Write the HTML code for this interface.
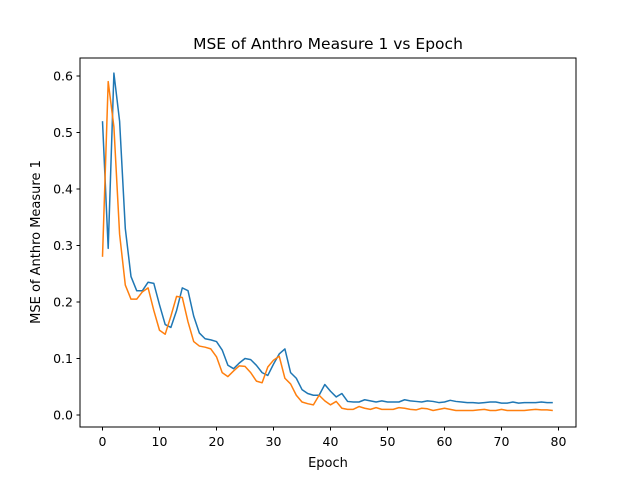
<!DOCTYPE html>
<html><head><meta charset="utf-8"><style>
body{margin:0;background:#fff}
svg text{font-family:"DejaVu Sans","Liberation Sans",sans-serif;fill:#000}
</style></head><body>
<svg id="chart" width="640" height="480" xmlns="http://www.w3.org/2000/svg">
<rect width="640" height="480" fill="#fff"/>
<text x="328" y="49" font-size="15.5" text-anchor="middle">MSE of Anthro Measure 1 vs Epoch</text>
<text x="328" y="467" font-size="13" text-anchor="middle">Epoch</text>
<text x="0" y="0" font-size="13" text-anchor="middle" transform="translate(40,242) rotate(-90)">MSE of Anthro Measure 1</text>
<g id="ticks"></g>
<g id="series"></g>
<rect x="80" y="58" width="496" height="369" fill="none" stroke="#000" stroke-width="1"/>
</svg>
<script>
const xTicks=[0,10,20,30,40,50,60,70,80];
const yTicks=[0.0,0.1,0.2,0.3,0.4,0.5,0.6];
const trainMSE=[0.52,0.295,0.605,0.52,0.33,0.245,0.22,0.22,0.235,0.233,0.195,0.16,0.155,0.185,0.225,0.22,0.175,0.145,0.135,0.133,0.13,0.115,0.088,0.082,0.092,0.1,0.098,0.088,0.075,0.07,0.09,0.108,0.117,0.075,0.065,0.045,0.038,0.035,0.035,0.054,0.042,0.032,0.038,0.024,0.023,0.023,0.027,0.025,0.023,0.025,0.023,0.023,0.023,0.027,0.025,0.024,0.023,0.025,0.024,0.022,0.023,0.026,0.024,0.023,0.022,0.022,0.021,0.022,0.023,0.023,0.021,0.021,0.023,0.021,0.022,0.022,0.022,0.023,0.022,0.022];
const valMSE=[0.28,0.59,0.51,0.32,0.23,0.205,0.205,0.218,0.225,0.185,0.15,0.143,0.175,0.21,0.208,0.165,0.13,0.122,0.12,0.117,0.103,0.075,0.068,0.078,0.087,0.086,0.075,0.06,0.057,0.085,0.097,0.104,0.065,0.055,0.035,0.023,0.02,0.018,0.035,0.025,0.018,0.024,0.012,0.01,0.01,0.015,0.012,0.01,0.013,0.01,0.01,0.01,0.013,0.012,0.01,0.009,0.012,0.011,0.008,0.01,0.012,0.01,0.008,0.008,0.008,0.008,0.009,0.01,0.008,0.008,0.01,0.008,0.008,0.008,0.008,0.009,0.01,0.009,0.009,0.008];
const NS="http://www.w3.org/2000/svg";
const xs=v=>102.5+v*5.7;
const ys=v=>415-v*565;
const tg=document.getElementById('ticks');
function mk(t,a){const e=document.createElementNS(NS,t);for(const k in a)e.setAttribute(k,a[k]);return e;}
xTicks.forEach(t=>{
  const l=mk('line',{x1:xs(t),x2:xs(t),y1:427,y2:430.5,stroke:'#000'});
  
  
  tg.appendChild(l);
  const tx=mk('text',{x:xs(t),y:446,'font-size':12.5,'text-anchor':'middle'});
  
  
  tx.textContent=t;tg.appendChild(tx);
});
yTicks.forEach(t=>{
  const l=mk('line',{x1:76.5,x2:80,y1:ys(t),y2:ys(t),stroke:'#000'});
  
  
  tg.appendChild(l);
  const tx=mk('text',{x:73,y:ys(t)+4.5,'font-size':12.5,'text-anchor':'end'});
  
  
  tx.textContent=t.toFixed(1);tg.appendChild(tx);
});
const sg=document.getElementById('series');
function line(d,c,n){
  const p=mk('polyline',{points:d.map((v,i)=>xs(i)+','+ys(v)).join(' '),fill:'none',stroke:c,'stroke-width':1.5,'stroke-linejoin':'round'});
  
  
  sg.appendChild(p);
}
line(trainMSE,'#1f77b4','train-mse-line');
line(valMSE,'#ff7f0e','val-mse-line');
</script>
</body></html>
